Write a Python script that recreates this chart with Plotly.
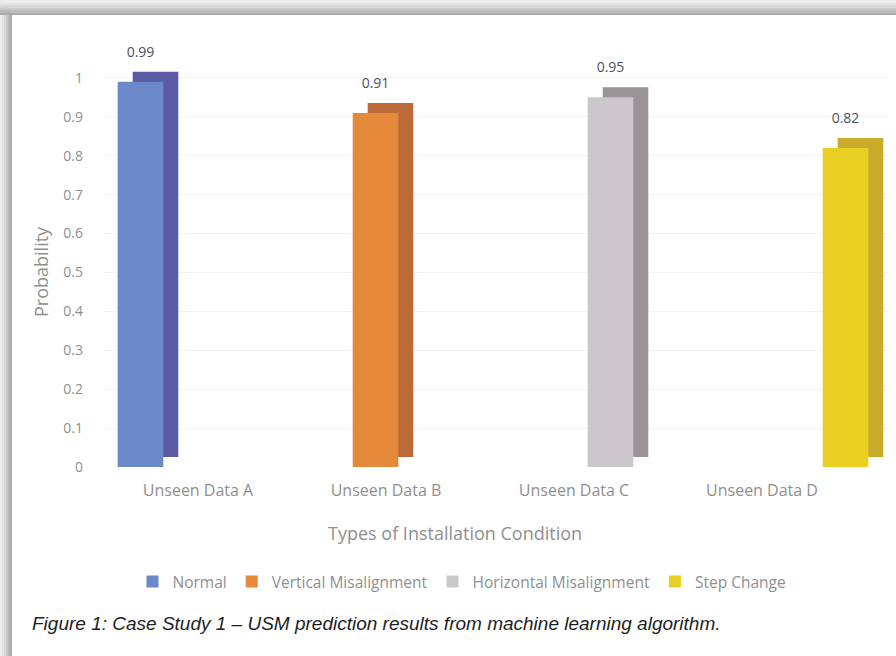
import plotly.graph_objects as go

# ---- data -------------------------------------------------------------
categories = ["Unseen Data A", "Unseen Data B", "Unseen Data C", "Unseen Data D"]
series_names = ["Normal", "Vertical Misalignment", "Horizontal Misalignment", "Step Change"]
# each prediction only belongs to one installation condition
normal_vals = [0.99, None, None, None]
vertical_vals = [None, 0.91, None, None]
horizontal_vals = [None, None, 0.95, None]
step_vals = [None, None, None, 0.82]
y_ticks = [0, 0.1, 0.2, 0.3, 0.4, 0.5, 0.6, 0.7, 0.8, 0.9, 1]

series_vals = [normal_vals, vertical_vals, horizontal_vals, step_vals]

# ---- styling ----------------------------------------------------------
face_colors = ["#6b88c9", "#e5893a", "#ccc7cb", "#e8cf22"]
depth_colors = ["#5b5ba5", "#bd6a3a", "#9a9397", "#c8ab2b"]

W, H = 896, 656
M_L, M_R, M_T, M_B = 104, 8, 39, 189
PLOT_W = W - M_L - M_R
PLOT_H = H - M_T - M_B
Y_MAX = 1.1
CAT_PX = 188  # width of one category band in pixels
X_SPAN = PLOT_W / CAT_PX

# perspective nudge of the column block and its extrusion depth (axis units)
SHIFT_X = 13 / CAT_PX
DEPTH_X = 15 / CAT_PX
DEPTH_Y = 10 / (PLOT_H / Y_MAX)

LABEL_FONT = "Open Sans"
GREY = "#8f8f8f"


def px_x(px):
    return (px - M_L) / PLOT_W


def px_y(py):
    return (H - M_B - py) / PLOT_H


fig = go.Figure()

# back copies (side / top faces), drawn on the shifted base axes
for name, vals, col in zip(series_names, series_vals, depth_colors):
    fig.add_trace(go.Bar(
        x=categories, y=vals, name=name, marker_color=col,
        marker_line_width=0, showlegend=False, hoverinfo="skip",
        xaxis="x", yaxis="y",
    ))

# front faces with value labels
for name, vals, col in zip(series_names, series_vals, face_colors):
    fig.add_trace(go.Bar(
        x=categories, y=vals, name=name, marker_color=col,
        marker_line_width=0,
        texttemplate="%{y}<br> ", textposition="outside", cliponaxis=False,
        textfont=dict(family=LABEL_FONT, size=14, color="#4d5060"),
        xaxis="x2", yaxis="y2",
    ))

# drop shadow along the top and left edge of the figure card
shadow_greys = ["#ededed", "#e3e3e3", "#d7d7d7", "#c9c9c9", "#b9b9b9", "#aaaaaa"]
shapes = []
n = len(shadow_greys)
top_h, left_w = 15, 12
for i, g in enumerate(shadow_greys):
    shapes.append(dict(type="rect", xref="paper", yref="paper",
                       x0=px_x(0), x1=px_x(W),
                       y0=px_y(top_h * i / n), y1=px_y(top_h * (i + 1) / n),
                       fillcolor=g, line_width=0, layer="below"))
    shapes.append(dict(type="rect", xref="paper", yref="paper",
                       x0=px_x(left_w * i / n), x1=px_x(left_w * (i + 1) / n),
                       y0=px_y(H), y1=px_y(top_h * i / n),
                       fillcolor=g, line_width=0, layer="below"))

x_lo = -0.5 - SHIFT_X
fig.update_layout(
    width=W, height=H,
    margin=dict(l=M_L, r=M_R, t=M_T, b=M_B, autoexpand=False),
    paper_bgcolor="white", plot_bgcolor="white",
    barmode="group", bargap=0.0, bargroupgap=0.03,
    font=dict(family=LABEL_FONT, color=GREY),
    showlegend=True,
    legend=dict(
        orientation="h", x=px_x(462), xanchor="center", y=px_y(582), yanchor="middle",
        font=dict(family=LABEL_FONT, size=15.5, color=GREY),
        itemwidth=30, traceorder="normal",
    ),
    xaxis=dict(type="category",
               range=[x_lo - DEPTH_X, x_lo - DEPTH_X + X_SPAN],
               visible=False, fixedrange=True),
    yaxis=dict(range=[-DEPTH_Y, Y_MAX - DEPTH_Y], visible=False, fixedrange=True),
    xaxis2=dict(
        type="category", overlaying="x", side="bottom",
        range=[x_lo, x_lo + X_SPAN],
        showgrid=False, showline=False, zeroline=False, ticks="",
        ticklabelshift=-13, ticklabelstandoff=12,
        tickfont=dict(family=LABEL_FONT, size=16, color=GREY),
    ),
    yaxis2=dict(
        overlaying="y", side="left", range=[0, Y_MAX], tickvals=y_ticks,
        showgrid=True, gridcolor="#f3f3f3", gridwidth=1,
        showline=False, zeroline=False, ticks="", ticklabelstandoff=20,
        tickfont=dict(family=LABEL_FONT, size=14, color=GREY),
    ),
    shapes=shapes,
    annotations=[
        dict(
            text="Probability", textangle=-90,
            xref="paper", yref="paper", x=px_x(41), y=px_y(271),
            xanchor="center", yanchor="middle", showarrow=False,
            font=dict(family=LABEL_FONT, size=18, color=GREY),
        ),
        dict(
            text="Types of Installation Condition",
            xref="paper", yref="paper", x=px_x(455), y=px_y(533),
            xanchor="center", yanchor="middle", showarrow=False,
            font=dict(family=LABEL_FONT, size=18, color=GREY),
        ),
        dict(
            text="Figure 1: Case Study 1 \u2013 USM prediction results from machine learning algorithm.",
            xref="paper", yref="paper", x=px_x(30), y=px_y(623),
            xanchor="left", yanchor="middle", showarrow=False,
            font=dict(family="Liberation Sans", size=19, color="#1e1e1e", style="italic"),
        ),
    ],
)

fig.write_html("out.html")
